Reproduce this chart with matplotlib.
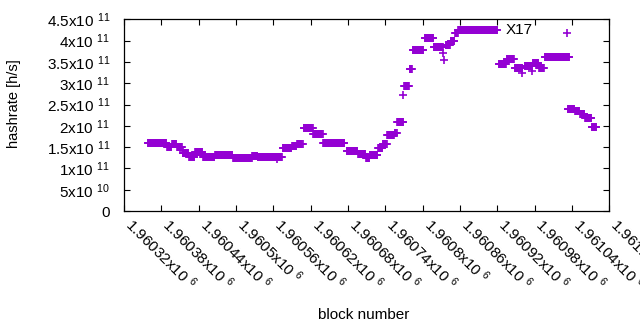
import numpy as np
import matplotlib
matplotlib.use("Agg")
import matplotlib.pyplot as plt
from matplotlib.transforms import ScaledTranslation, blended_transform_factory

plt.rcParams['font.family'] = ['Liberation Sans', 'DejaVu Sans']
plt.rcParams['mathtext.fontset'] = 'custom'
plt.rcParams['mathtext.rm'] = 'Liberation Sans'
plt.rcParams['mathtext.default'] = 'regular'

### Data
# runs of blocks with the same hashrate estimate: first block, number of blocks, hashrate [1e11 h/s]
run_start = [1960358, 1960366, 1960389, 1960397, 1960405, 1960414, 1960425, 1960434,
             1960447, 1960466, 1960495, 1960526, 1960535, 1960566, 1960575, 1960590,
             1960598, 1960609, 1960624, 1960640, 1960678, 1960696, 1960709, 1960715,
             1960728, 1960736, 1960743, 1960755, 1960759, 1960770, 1960779, 1960784,
             1960803, 1960818, 1960837, 1960845, 1960852, 1960857, 1960922, 1960935,
             1960948, 1960964, 1960977, 1960987, 1960996, 1961033, 1961045, 1961053,
             1961061, 1961072]
run_len = [8, 23, 8, 8, 9, 10, 9, 13,
           19, 29, 31, 9, 31, 9, 15, 8,
           10, 15, 16, 35, 18, 13, 6, 13,
           8, 7, 12, 4, 11, 9, 5, 18,
           15, 15, 8, 7, 5, 64, 13, 13,
           13, 12, 10, 9, 41, 12, 8, 8,
           11, 8]
run_rate = [1.59, 1.60, 1.50, 1.57, 1.50, 1.36, 1.27, 1.38,
            1.26, 1.31, 1.25, 1.30, 1.27, 1.26, 1.47, 1.52,
            1.57, 1.94, 1.80, 1.59, 1.40, 1.33, 1.25, 1.31,
            1.49, 1.57, 1.78, 1.82, 2.08, 2.94, 3.34, 3.79,
            4.05, 3.86, 3.89, 3.99, 4.19, 4.24, 3.45, 3.56,
            3.35, 3.41, 3.47, 3.35, 3.61, 2.39, 2.34, 2.28,
            2.18, 1.98]

# single blocks that stand out of their run
odd_block = [1960414, 1960566, 1960768, 1960833, 1960834, 1960960, 1960976, 1961032]
odd_rate = [1.42, 1.22, 2.72, 3.71, 3.54, 3.24, 3.29, 4.19]

x_ticks = [1960320, 1960380, 1960440, 1960500, 1960560, 1960620, 1960680,
           1960740, 1960800, 1960860, 1960920, 1960980, 1961040, 1961100]
x_tick_text = ['1.96032', '1.96038', '1.96044', '1.9605', '1.96056', '1.96062', '1.96068',
               '1.96074', '1.9608', '1.96086', '1.96092', '1.96098', '1.96104', '1.9611']
y_ticks = [0, 0.5e11, 1e11, 1.5e11, 2e11, 2.5e11, 3e11, 3.5e11, 4e11, 4.5e11]
y_tick_text = ['0', '5x10 $^{10}$', '1x10 $^{11}$', '1.5x10 $^{11}$', '2x10 $^{11}$',
               '2.5x10 $^{11}$', '3x10 $^{11}$', '3.5x10 $^{11}$', '4x10 $^{11}$', '4.5x10 $^{11}$']

# expand the runs to one point per block
blocks = np.concatenate([np.arange(s, s + n) for s, n in zip(run_start, run_len)] + [odd_block])
rates = np.concatenate([np.full(n, r) for n, r in zip(run_len, run_rate)] + [odd_rate]) * 1e11

### Plot
fig = plt.figure(figsize=(6.4, 3.3), dpi=100)
ax = fig.add_axes([0.1939, 0.3606, 0.7581, 0.5809])

ax.plot(blocks, rates, '+', color='#9400d3', ms=6, mew=1.2, clip_on=True)
ax.text(1960934, 4.24e11, 'X17', fontsize=11, ha='left', va='center')

ax.set_xlim(1960320, 1961100)
ax.set_ylim(0, 4.5e11)

# x tick labels drawn by hand: gnuplot puts the rotated text right of the tick
ax.set_xticks(x_ticks)
ax.set_xticklabels([])
lab_trans = blended_transform_factory(ax.transData, ax.transAxes) + \
    ScaledTranslation(11 / 100, -4 / 100, fig.dpi_scale_trans)
for xt, t in zip(x_ticks, x_tick_text):
    ax.text(xt, 0, t + 'x10 $^{6}$', transform=lab_trans, rotation=-45,
            ha='left', va='top', rotation_mode='anchor', fontsize=11, clip_on=False)

ax.set_yticks(y_ticks)
ax.set_yticklabels(y_tick_text, fontsize=11)

ax.tick_params(direction='in', length=4, width=0.8, top=True, right=True)
ax.tick_params(axis='y', pad=10)
for s in ax.spines.values():
    s.set_linewidth(0.9)

ax.set_xlabel('block number', fontsize=11)
ax.xaxis.set_label_coords(0.494, -0.543)
ax.xaxis.label.set_va('center')
ax.set_ylabel('hashrate [h/s]', fontsize=10.5)
ax.yaxis.set_label_coords(-0.227, 0.56)
ax.yaxis.label.set_va('center')

fig.savefig('out.png', dpi=100)
